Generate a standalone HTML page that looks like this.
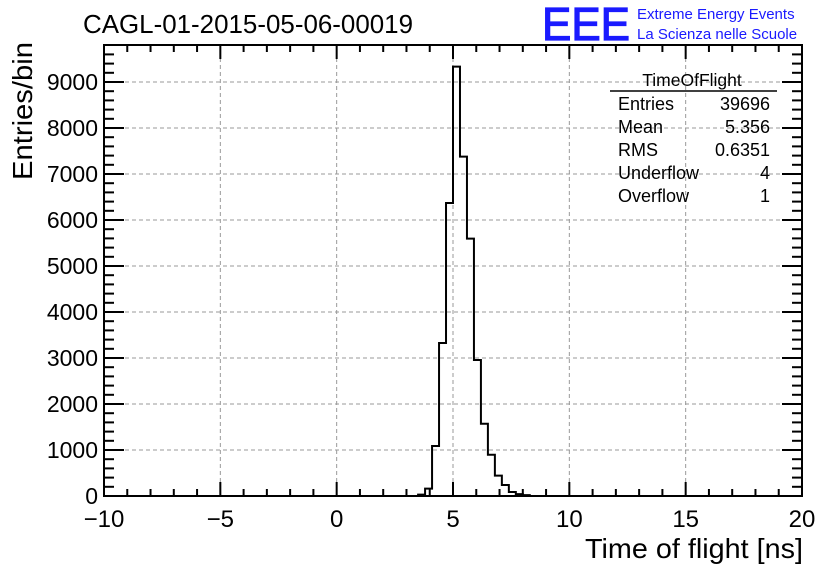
<!DOCTYPE html>
<html><head><meta charset="utf-8"><style>
body{margin:0;background:#fff;}
svg{display:block;font-family:"Liberation Sans",Arial,sans-serif;}
</style></head><body>
<svg id="chart" width="836" height="572" xmlns="http://www.w3.org/2000/svg">
<rect width="836" height="572" fill="#fff"/>
<text x="83" y="33" font-size="26" textLength="330" lengthAdjust="spacingAndGlyphs">CAGL-01-2015-05-06-00019</text>
<text x="542" y="40" font-size="46" fill="#1a1aff" stroke="#1a1aff" stroke-width="1.2" textLength="88" lengthAdjust="spacingAndGlyphs">EEE</text>
<text x="637" y="19" font-size="15" fill="#1a1aff">Extreme Energy Events</text>
<text x="637" y="39" font-size="15" fill="#1a1aff">La Scienza nelle Scuole</text>
<g id="grid"></g>
<g id="axes"></g>
<path id="hist" fill="none" stroke="#000" stroke-width="2"/>
<rect x="104" y="45" width="698" height="451" fill="none" stroke="#000" stroke-width="2"/>
<text x="803" y="558" font-size="28" text-anchor="end" textLength="218" lengthAdjust="spacingAndGlyphs">Time of flight [ns]</text>
<text transform="translate(32,180) rotate(-90)" font-size="28" textLength="138" lengthAdjust="spacingAndGlyphs">Entries/bin</text>
<g>
<text x="692" y="86" font-size="17.5" text-anchor="middle">TimeOfFlight</text>
<line x1="610" y1="91" x2="777" y2="91" stroke="#000" stroke-width="1.5"/>
<g font-size="18">
<text x="618" y="110">Entries</text><text x="770" y="110" text-anchor="end">39696</text>
<text x="618" y="133">Mean</text><text x="770" y="133" text-anchor="end">5.356</text>
<text x="618" y="156">RMS</text><text x="770" y="156" text-anchor="end">0.6351</text>
<text x="618" y="179">Underflow</text><text x="770" y="179" text-anchor="end">4</text>
<text x="618" y="202">Overflow</text><text x="770" y="202" text-anchor="end">1</text>
</g></g>
</svg>
<script>
const binLow = [3.5,3.8,4.1,4.4,4.7,5.0,5.3,5.6,5.9,6.2,6.5,6.8,7.1,7.4,7.7,8.0];
const counts = [30,160,1087,3326,6370,9333,7377,5594,2957,1572,898,442,239,87,40,20];
const binWidth = 0.3;
const xTicks = [-10,-5,0,5,10,15,20];
const yTicks = [0,1000,2000,3000,4000,5000,6000,7000,8000,9000];
const X0=104,X1=802,Y0=496,Y1=45;
const xs=v=>X0+(v+10)/30*(X1-X0);
const ys=v=>Y0-v/1000*46;
const NS="http://www.w3.org/2000/svg";
const grid=document.getElementById('grid'),axes=document.getElementById('axes');
function mk(t,a,p){const e=document.createElementNS(NS,t);for(const k in a)e.setAttribute(k,a[k]);p.appendChild(e);return e;}
xTicks.forEach(v=>{
 if(v>-10&&v<20){const g=mk('line',{x1:xs(v),x2:xs(v),y1:Y0,y2:Y1,stroke:'#999','stroke-dasharray':'4,3'},grid);
 
 }
 const t=mk('text',{x:xs(v),y:527,'font-size':24,'text-anchor':'middle'},axes);t.textContent=(v<0?'\u2212'+(-v):v);
 
 
 mk('line',{x1:xs(v),x2:xs(v),y1:Y0,y2:Y0-14,stroke:'#000','stroke-width':2},axes);
 mk('line',{x1:xs(v),x2:xs(v),y1:Y1,y2:Y1+14,stroke:'#000','stroke-width':2},axes);
});
for(let v=-9;v<20;v++){if(v%5===0)continue;
 mk('line',{x1:xs(v),x2:xs(v),y1:Y0,y2:Y0-7,stroke:'#000','stroke-width':2},axes);
 mk('line',{x1:xs(v),x2:xs(v),y1:Y1,y2:Y1+7,stroke:'#000','stroke-width':2},axes);}
yTicks.forEach(v=>{
 if(v>0){const g=mk('line',{x1:X0,x2:X1,y1:ys(v),y2:ys(v),stroke:'#999','stroke-dasharray':'4,3'},grid);
 
 }
 const t=mk('text',{x:98,y:ys(v)+8,'font-size':23,'text-anchor':'end'},axes);t.textContent=v;
 
 
 mk('line',{x1:X0,x2:X0+20,y1:ys(v),y2:ys(v),stroke:'#000','stroke-width':2},axes);
 mk('line',{x1:X1,x2:X1-20,y1:ys(v),y2:ys(v),stroke:'#000','stroke-width':2},axes);
});
for(let v=200;v<9800;v+=200){if(v%1000===0)continue;
 mk('line',{x1:X0,x2:X0+10,y1:ys(v),y2:ys(v),stroke:'#000','stroke-width':2},axes);
 mk('line',{x1:X1,x2:X1-10,y1:ys(v),y2:ys(v),stroke:'#000','stroke-width':2},axes);}
let d='M'+X0+','+Y0+' L'+xs(binLow[0])+','+Y0;
binLow.forEach((b,i)=>{d+=' L'+xs(b)+','+ys(counts[i])+' L'+xs(b+binWidth)+','+ys(counts[i]);});
d+=' L'+xs(binLow[binLow.length-1]+binWidth)+','+Y0+' L'+X1+','+Y0;
document.getElementById('hist').setAttribute('d',d);
</script>
</body></html>
